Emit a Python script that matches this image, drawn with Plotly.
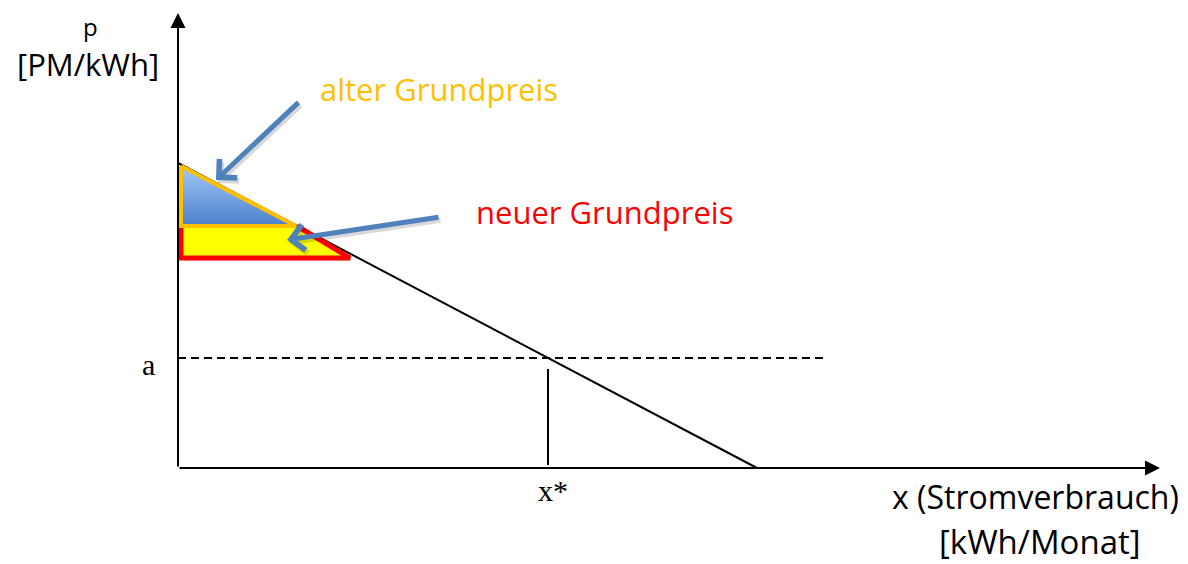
import plotly.graph_objects as go

# ---- data (schematic units; x = consumption, p = price) ----
demand_x = [0, 579]          # demand line: p-intercept -> x-intercept
demand_p = [305, 0]
a_level = 110                # price a
x_star = 370                 # quantity x*
dash_end = 647
xstar_line_p = [3, 99]
old_tri_x = [3, 3, 118, 3]   # "alter Grundpreis" triangle
old_tri_p = [302, 242, 242, 302]
new_x = [119, 172, 3, 3]     # "neuer Grundpreis" area (outline open on top)
new_p = [242, 210, 210, 242]
x_axis_end = 982
p_axis_end = 455

SANS = "Open Sans"
SERIF = "Liberation Serif"
BLUE = "#4F81BD"
ORANGE = "#FFC000"

fig = go.Figure()

fig.add_trace(go.Scatter(x=demand_x, y=demand_p, mode="lines",
                         line=dict(color="black", width=2), hoverinfo="skip"))
# shadow of new area
fig.add_trace(go.Scatter(x=[v + 3 for v in new_x] + [new_x[0] + 3],
                         y=[v - 3 for v in new_p] + [new_p[0] - 3],
                         mode="lines", fill="toself", fillcolor="rgba(0,0,0,0.12)",
                         line=dict(width=0), hoverinfo="skip"))
fig.add_trace(go.Scatter(x=new_x, y=new_p, mode="lines", fill="toself",
                         fillcolor="#FFFF00", line=dict(color="#FF0000", width=5),
                         hoverinfo="skip"))
fig.add_trace(go.Scatter(x=old_tri_x, y=old_tri_p, mode="lines", fill="toself",
                         fillgradient=dict(type="vertical",
                                           colorscale=[[0, "#4A80CC"], [1, "#A3C8F8"]]),
                         line=dict(color=ORANGE, width=4), hoverinfo="skip"))
fig.add_trace(go.Scatter(x=[0, dash_end], y=[a_level, a_level], mode="lines",
                         line=dict(color="black", width=2, dash="8px,5px"),
                         hoverinfo="skip"))
fig.add_trace(go.Scatter(x=[x_star, x_star], y=xstar_line_p, mode="lines",
                         line=dict(color="black", width=2), hoverinfo="skip"))

ann = []
# axes with arrowheads
ann.append(dict(x=x_axis_end, y=0, ax=0, ay=0, axref="x", ayref="y", xref="x", yref="y",
                text="", showarrow=True, arrowhead=2, arrowsize=1.5, arrowwidth=2,
                arrowcolor="black"))
ann.append(dict(x=0, y=p_axis_end, ax=0, ay=0, axref="x", ayref="y", xref="x", yref="y",
                text="", showarrow=True, arrowhead=2, arrowsize=1.5, arrowwidth=2,
                arrowcolor="black"))
# blue pointer arrows
for (tx, tp, hx, hp) in [(122, 367, 38, 288), (262, 251, 109, 228)]:
    ann.append(dict(x=hx + 2, y=hp - 3, ax=tx + 2, ay=tp - 3, axref="x", ayref="y",
                    xref="x", yref="y", text="", showarrow=True, arrowhead=4,
                    arrowsize=1.0, arrowwidth=5, arrowcolor="rgba(0,0,0,0.15)"))
    ann.append(dict(x=hx, y=hp, ax=tx, ay=tp, axref="x", ayref="y", xref="x", yref="y",
                    text="", showarrow=True, arrowhead=4, arrowsize=1.0, arrowwidth=5,
                    arrowcolor=BLUE))

def label(x, y, text, size, color="black", family=SANS):
    ann.append(dict(x=x, y=y, xref="x", yref="y", text=text, showarrow=False,
                    xanchor="center", yanchor="middle",
                    font=dict(family=family, size=size, color=color)))

label(-88, 442, "p", 24)
label(-90, 404, "[PM/kWh]", 31)
label(261, 379, "alter Grundpreis", 31, ORANGE)
label(426, 256, "neuer Grundpreis", 31, "#FF0000")
label(-30, 104, "a", 30, family=SERIF)
label(375, -22, "x*", 30, family=SERIF)
label(857, -28, "x (Stromverbrauch)", 32)
label(862, -73, "[kWh/Monat]", 33)

# the page body has an 8px margin: the figure covers page pixels 8..1188 x 8..564
fig.update_layout(
    width=1180, height=556, margin=dict(l=0, r=0, t=0, b=0),
    paper_bgcolor="white", plot_bgcolor="white", showlegend=False,
    xaxis=dict(range=[-170, 1010], visible=False, fixedrange=True),
    yaxis=dict(range=[-96, 460], visible=False, fixedrange=True),
    annotations=ann,
)

fig.write_html("out.html")
